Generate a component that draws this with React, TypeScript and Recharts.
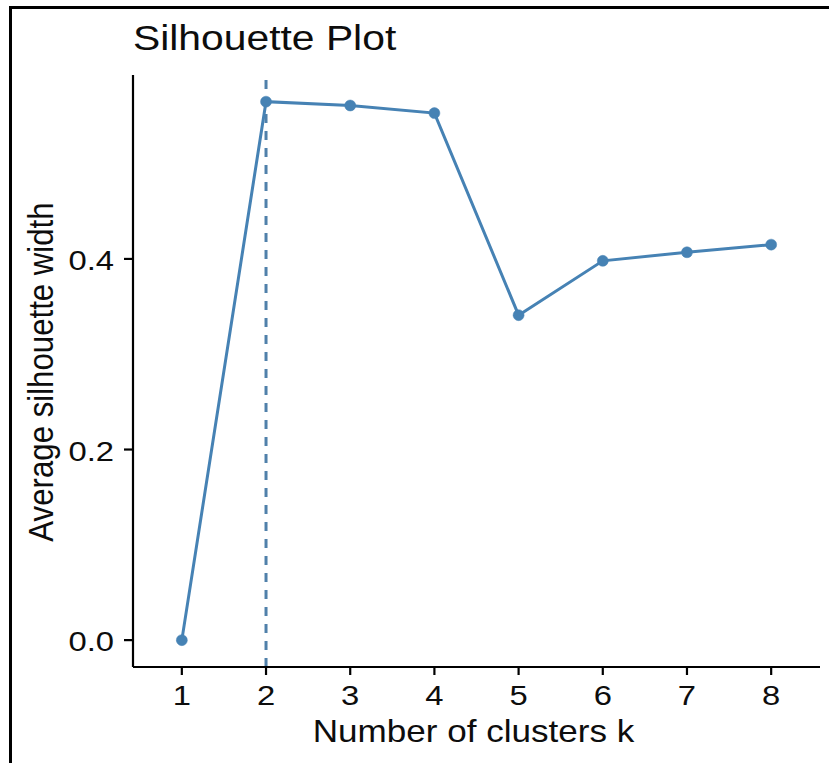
import React from "react";
import { LineChart, Line, XAxis, YAxis, ReferenceLine, Label } from "recharts";

const clusters = [1, 2, 3, 4, 5, 6, 7, 8];
const silhouette = [0, 0.565, 0.561, 0.553, 0.341, 0.398, 0.407, 0.415];
const yTicks = [0, 0.2, 0.4];
const optimalK = 2;

const titleText = "Silhouette Plot";
const xTitle = "Number of clusters k";
const yTitle = "Average silhouette width";

const data = clusters.map((k, i) => ({ k, width: silhouette[i] }));

const COLOR = "#4682B4";
const FONT = "'Liberation Sans', Arial, Helvetica, sans-serif";
const SX = 1.15; // horizontal stretch of the reference image

const XTick = (props: any) => {
  const { x, y, payload } = props;
  return (
    <text
      transform={`translate(${x},${y}) scale(${SX},1)`}
      textAnchor="middle"
      fontSize={28.5}
      fontFamily={FONT}
      fill="#0d0d0d"
      dy={30}
    >
      {payload.value}
    </text>
  );
};

const YTick = (props: any) => {
  const { x, y, payload } = props;
  return (
    <text
      transform={`translate(${x},${y}) scale(${SX},1)`}
      textAnchor="end"
      fontSize={28.5}
      fontFamily={FONT}
      fill="#0d0d0d"
      dy={11}
    >
      {Number(payload.value).toFixed(1)}
    </text>
  );
};

const XLabel = (props: any) => {
  const vb = props.viewBox || {};
  const cx = vb.x + vb.width / 2 - 3;
  const by = vb.y + 75;
  return (
    <text
      transform={`translate(${cx},${by}) scale(${SX},1)`}
      textAnchor="middle"
      fontSize={30.5}
      fontFamily={FONT}
      fill="#0d0d0d"
    >
      {xTitle}
    </text>
  );
};

const YLabel = (props: any) => {
  const vb = props.viewBox || {};
  const cy = vb.y + vb.height / 2 + 1;
  return (
    <text
      transform={`translate(53,${cy}) scale(${SX},1) rotate(-90)`}
      textAnchor="middle"
      fontSize={31.2}
      fontFamily={FONT}
      fill="#0d0d0d"
    >
      {yTitle}
    </text>
  );
};

export default function App() {
  return (
    <div
      style={{
        position: "absolute",
        left: 0,
        top: 0,
        width: 829,
        height: 763,
        background: "#fff",
        overflow: "hidden",
      }}
    >
      <div style={{ position: "absolute", left: 0, top: 0 }}>
        <LineChart
          width={829}
          height={763}
          data={data}
          margin={{ top: 75, right: 9, bottom: 0, left: 0 }}
        >
          <XAxis
            dataKey="k"
            type="number"
            domain={[0.42, 8.58]}
            ticks={clusters}
            allowDataOverflow
            height={96}
            tickSize={8}
            tickMargin={0}
            axisLine={{ stroke: "#000", strokeWidth: 2.2 }}
            tickLine={{ stroke: "#000", strokeWidth: 2.2 }}
            tick={<XTick />}
          >
            <Label content={<XLabel />} />
          </XAxis>
          <YAxis
            type="number"
            domain={[-0.0282, 0.593]}
            ticks={yTicks}
            allowDataOverflow
            width={133}
            tickSize={9}
            tickMargin={10}
            axisLine={{ stroke: "#000", strokeWidth: 2.2 }}
            tickLine={{ stroke: "#000", strokeWidth: 2.2 }}
            tick={<YTick />}
          >
            <Label content={<YLabel />} />
          </YAxis>
          <ReferenceLine
            x={optimalK}
            stroke="#5080aa"
            strokeWidth={3}
            strokeDasharray="9 8"
          />
          <Line
            type="linear"
            dataKey="width"
            stroke={COLOR}
            strokeWidth={3}
            dot={{ r: 5.5, fill: COLOR, stroke: COLOR, strokeWidth: 0.5 }}
            activeDot={false}
            isAnimationActive={false}
          />
        </LineChart>
      </div>
      <div
        style={{
          position: "absolute",
          left: 9,
          top: 6,
          width: 820,
          height: 757,
          borderTop: "3px solid #000",
          borderLeft: "3px solid #000",
          boxSizing: "border-box",
          pointerEvents: "none",
        }}
      />
      <svg
        width={829}
        height={70}
        style={{ position: "absolute", left: 0, top: 0, pointerEvents: "none" }}
      >
        <text
          transform={`translate(133,50) scale(${SX},1)`}
          fontSize={35.5}
          fontFamily={FONT}
          fill="#0d0d0d"
        >
          {titleText}
        </text>
      </svg>
    </div>
  );
}
